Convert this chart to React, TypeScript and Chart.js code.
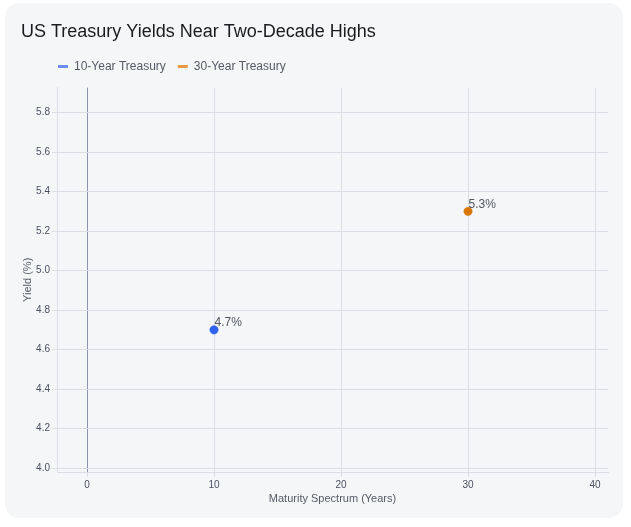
import React, { useEffect, useRef } from "react";
import { Chart, registerables } from "chart.js";

Chart.register(...registerables);

const chartTitle = "US Treasury Yields Near Two-Decade Highs";
const seriesNames = ["10-Year Treasury", "30-Year Treasury"];
const maturities = [10, 30];
const yields = [4.7, 5.3];
const pointColors = ["#2f62ee", "#d97706"];
const legendColors = ["#6a8ef2", "#e89a48"];
const xTicks = [0, 10, 20, 30, 40];
const yTicks = [4.0, 4.2, 4.4, 4.6, 4.8, 5.0, 5.2, 5.4, 5.6, 5.8];
const xAxisTitle = "Maturity Spectrum (Years)";
const yAxisTitle = "Yield (%)";

const FONT = '"Liberation Sans", Arial, Helvetica, sans-serif';
const GRID = "#dcdee5";
const ZERO = "#8e92b0";
const TICK_TEXT = "#4b5060";

const valueLabels = {
  id: "valueLabels",
  afterDatasetsDraw(chart: any) {
    const ctx = chart.ctx;
    ctx.save();
    ctx.font = `12px ${FONT}`;
    ctx.fillStyle = "#50555f";
    ctx.textAlign = "left";
    ctx.textBaseline = "middle";
    chart.data.datasets.forEach((ds: any, i: number) => {
      const meta = chart.getDatasetMeta(i);
      meta.data.forEach((pt: any, j: number) => {
        const v = ds.data[j].y;
        ctx.fillText(`${v.toFixed(1)}%`, pt.x + 0.5, pt.y - 7);
      });
    });
    ctx.restore();
  },
};

const legendShift = {
  id: "legendShift",
  afterLayout(chart: any) {
    const lg = chart.legend;
    if (lg) {
      lg.left = 46;
      lg.top -= 5;
      lg.bottom -= 5;
    }
  },
};

export default function App() {
  const ref = useRef<HTMLCanvasElement | null>(null);

  useEffect(() => {
    if (!ref.current) return;
    const datasets = seriesNames.map((name, i) => ({
      label: name,
      data: [{ x: maturities[i], y: yields[i] }],
      backgroundColor: pointColors[i],
      borderColor: pointColors[i],
      borderWidth: 0.5,
      pointRadius: 4.2,
      pointHoverRadius: 5,
      showLine: false,
    }));

    const chart = new Chart(ref.current, {
      type: "scatter",
      data: { datasets },
      options: {
        animation: false,
        responsive: false,
        devicePixelRatio: 1,
        layout: { padding: { top: 11, left: 21, right: 23, bottom: 10 } },
        font: { family: FONT },
        plugins: {
          title: {
            display: true,
            text: chartTitle,
            align: "start",
            color: "#1b1b1f",
            font: { size: 18, family: FONT, weight: "normal" },
            padding: { top: 10, bottom: 11 },
          },
          legend: {
            display: true,
            position: "top",
            align: "start",
            labels: {
              boxWidth: 10,
              boxHeight: 3,
              padding: 12,
              color: "#555a64",
              font: { size: 12, family: FONT },
              generateLabels: (chart: any) =>
                Chart.defaults.plugins.legend.labels
                  .generateLabels(chart)
                  .map((item: any, i: number) => ({
                    ...item,
                    fillStyle: legendColors[i],
                    strokeStyle: legendColors[i],
                    lineWidth: 0,
                  })),
            },
          },
          tooltip: { enabled: true },
        },
        scales: {
          x: {
            type: "linear",
            min: -2.362,
            max: 41.02,
            afterBuildTicks: (scale: any) => {
              scale.ticks = xTicks.map((v) => ({ value: v }));
            },
            afterFit: (scale: any) => {
              scale.height = 45;
            },
            ticks: {
              color: TICK_TEXT,
              font: { size: 10, family: FONT },
              padding: 2,
              callback: (v: any) => String(v),
            },
            grid: {
              color: (c: any) => (c.tick && c.tick.value === 0 ? ZERO : GRID),
              tickColor: GRID,
              tickLength: 5,
              drawTicks: true,
            },
            border: { display: true, color: GRID },
            title: {
              display: true,
              text: xAxisTitle,
              color: "#555a64",
              font: { size: 11, family: FONT },
              padding: { top: 0, bottom: 11 },
            },
          },
          y: {
            type: "linear",
            min: 3.98,
            max: 5.927,
            afterBuildTicks: (scale: any) => {
              scale.ticks = yTicks.map((v) => ({ value: v }));
            },
            afterFit: (scale: any) => {
              scale.width = 36;
            },
            ticks: {
              color: TICK_TEXT,
              font: { size: 10, family: FONT },
              padding: 2,
              callback: (v: any) => Number(v).toFixed(1),
            },
            grid: {
              color: GRID,
              tickColor: GRID,
              tickLength: 5,
              drawTicks: true,
            },
            border: { display: true, color: GRID },
            title: {
              display: true,
              text: yAxisTitle,
              color: "#555a64",
              font: { size: 11, family: FONT },
              padding: { top: 0, bottom: 0 },
            },
          },
        },
      },
      plugins: [valueLabels, legendShift],
    } as any);

    return () => chart.destroy();
  }, []);

  return (
    <div
      style={{
        position: "fixed",
        left: 0,
        top: 0,
        width: 631,
        height: 527,
        background: "#ffffff",
      }}
    >
      <div
        style={{
          position: "absolute",
          left: 5,
          top: 3,
          width: 618,
          height: 515,
          borderRadius: 14,
          background: "#f5f6f8",
        }}
      />
      <canvas
        ref={ref}
        width={631}
        height={527}
        style={{ position: "absolute", left: 0, top: 0, width: 631, height: 527 }}
      />
    </div>
  );
}
